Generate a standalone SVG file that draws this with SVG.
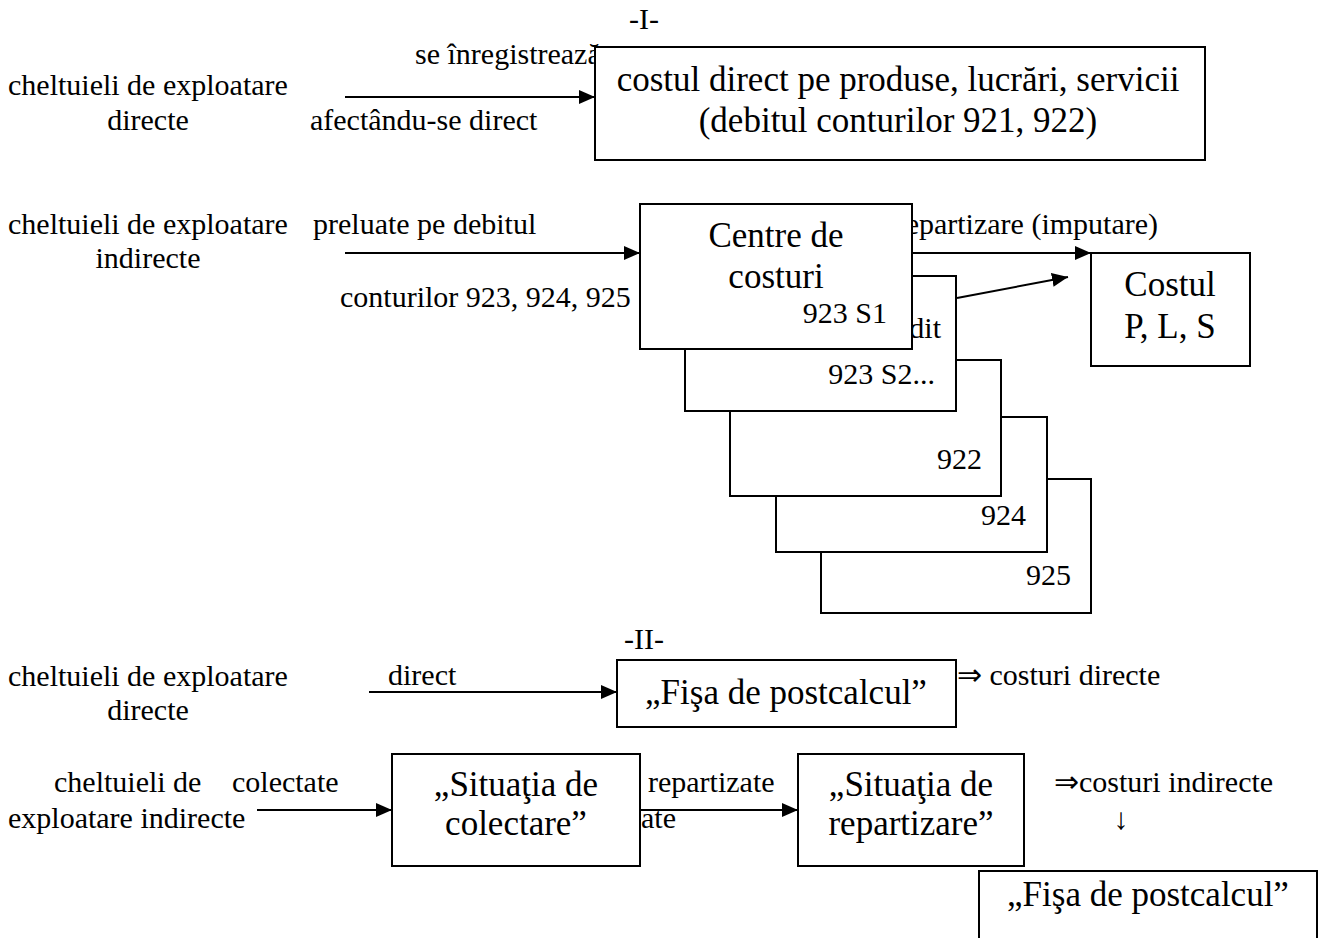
<svg xmlns="http://www.w3.org/2000/svg" width="1318" height="938" viewBox="0 0 1318 938">
<style>
text{font-family:"Liberation Serif","Times New Roman",serif;fill:#000}
.s{font-size:30px}
.b{font-size:35px}
.m{text-anchor:middle}
.e{text-anchor:end}
rect{fill:#fff;stroke:#000;stroke-width:2}
.c{stroke:#000;stroke-width:2;fill:none}
</style>
<defs>
<marker id="ah" markerUnits="userSpaceOnUse" markerWidth="17" markerHeight="15" refX="16" refY="7" orient="auto">
<path d="M0,0 L16,7 L0,14 z" fill="#000"/>
</marker>
</defs>
<rect x="0" y="0" width="1318" height="938" style="stroke:none;fill:#fff"/>

<g id="labels-I">
<text class="s m" x="644" y="29">-I-</text>
<text class="s" x="415" y="64">se înregistrează</text>
<text class="s" x="8" y="95">cheltuieli de exploatare</text>
<text class="s m" x="148" y="130">directe</text>
<text class="s" x="310" y="130">afectându-se direct</text>
<text class="s" x="8" y="234">cheltuieli de exploatare</text>
<text class="s m" x="148" y="268">indirecte</text>
<text class="s" x="313" y="234">preluate pe debitul</text>
<text class="s" x="340" y="307">conturilor 923, 924, 925</text>
<text class="s e" x="1158" y="234">repartizare (imputare)</text>
</g>

<g id="node-cost-direct">
<rect x="595" y="47" width="610" height="113"/>
<text class="b m" x="898" y="91">costul direct pe produse, lucrări, servicii</text>
<text class="b m" x="898" y="132">(debitul conturilor 921, 922)</text>
</g>

<g id="node-925">
<rect x="821" y="479" width="270" height="134"/>
<text class="s e" x="1071" y="585">925</text>
</g>
<g id="node-924">
<rect x="776" y="417" width="271" height="135"/>
<text class="s e" x="1026" y="525">924</text>
</g>
<g id="node-922">
<rect x="730" y="360" width="271" height="136"/>
<text class="s e" x="982" y="469">922</text>
</g>
<g id="node-923-s2">
<rect x="685" y="276" width="271" height="135"/>
<text class="s e" x="941" y="338">dit</text>
<text class="s e" x="935" y="384">923 S2...</text>
</g>
<g id="node-centre">
<rect x="640" y="204" width="272" height="145"/>
<text class="b m" x="776" y="247">Centre de</text>
<text class="b m" x="776" y="288">costuri</text>
<text class="s e" x="887" y="323">923 S1</text>
</g>

<g id="node-costul">
<rect x="1091" y="253" width="159" height="113"/>
<text class="b m" x="1170" y="296">Costul</text>
<text class="b m" x="1170" y="338">P, L, S</text>
</g>

<g id="labels-II">
<text class="s m" x="644" y="649">-II-</text>
<text class="s" x="8" y="686">cheltuieli de exploatare</text>
<text class="s m" x="148" y="720">directe</text>
<text class="s" x="388" y="685">direct</text>
<text class="s" x="957" y="685">⇒ costuri directe</text>
<text class="s" x="54" y="792">cheltuieli de</text>
<text class="s" x="8" y="828">exploatare indirecte</text>
<text class="s" x="232" y="792">colectate</text>
<text class="s" x="648" y="792">repartizate</text>
<text class="s" x="641" y="828">ate</text>
<text class="s" x="1054" y="792">⇒costuri indirecte</text>
<text class="s m" x="1121" y="829">↓</text>
</g>

<g id="node-fisa-1">
<rect x="617" y="660" width="339" height="67"/>
<text class="b m" x="786" y="704">„Fişa de postcalcul”</text>
</g>
<g id="node-situatia-colectare">
<rect x="392" y="754" width="248" height="112"/>
<text class="b m" x="516" y="796">„Situaţia de</text>
<text class="b m" x="516" y="835">colectare”</text>
</g>
<g id="node-situatia-repartizare">
<rect x="798" y="754" width="226" height="112"/>
<text class="b m" x="911" y="796">„Situaţia de</text>
<text class="b m" x="911" y="835">repartizare”</text>
</g>
<g id="node-fisa-2">
<rect x="979" y="871" width="338" height="90"/>
<text class="b m" x="1148" y="906">„Fişa de postcalcul”</text>
</g>

<g id="connectors">
<line class="c" x1="345" y1="97" x2="595" y2="97" marker-end="url(#ah)"/>
<line class="c" x1="345" y1="253" x2="640" y2="253" marker-end="url(#ah)"/>
<line class="c" x1="912" y1="253" x2="1091" y2="253" marker-end="url(#ah)"/>
<line class="c" x1="957" y1="298" x2="1068" y2="277" marker-end="url(#ah)"/>
<line class="c" x1="369" y1="692" x2="617" y2="692" marker-end="url(#ah)"/>
<line class="c" x1="257" y1="810" x2="392" y2="810" marker-end="url(#ah)"/>
<line class="c" x1="640" y1="810" x2="798" y2="810" marker-end="url(#ah)"/>
</g>
</svg>
